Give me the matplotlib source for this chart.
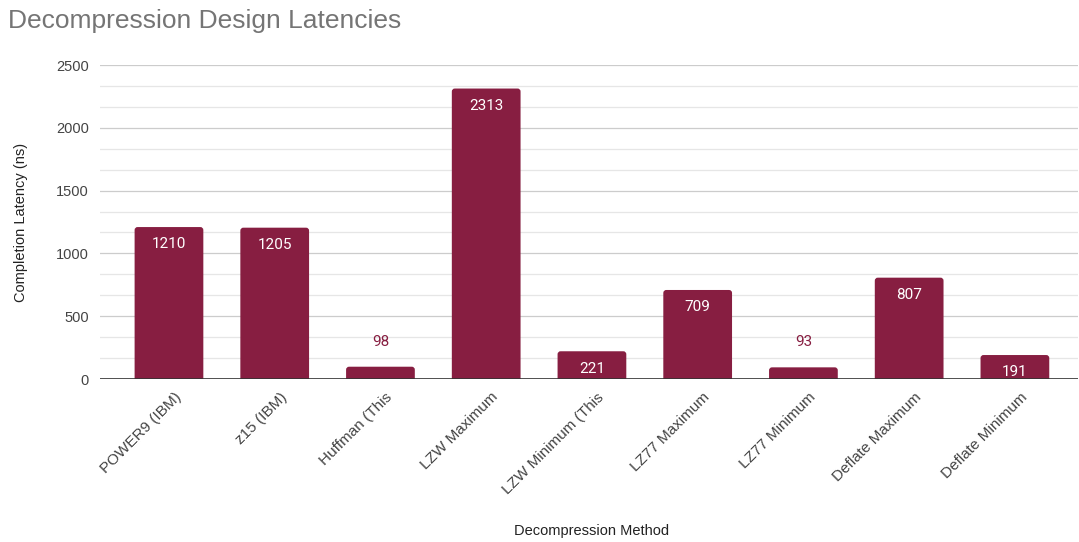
import matplotlib
matplotlib.use("Agg")
import matplotlib.pyplot as plt
import matplotlib.transforms as mtransforms
from matplotlib.patches import FancyBboxPatch
from matplotlib.ticker import MultipleLocator

methods = ["POWER9 (IBM)", "z15 (IBM)", "Huffman (This", "LZW Maximum",
           "LZW Minimum (This", "LZ77 Maximum", "LZ77 Minimum",
           "Deflate Maximum", "Deflate Minimum"]
latency_ns = [1210, 1205, 98, 2313, 221, 709, 93, 807, 191]

bar_color = "#871e41"
text_gray = "#444444"

fig = plt.figure(figsize=(10.79, 5.42), dpi=100)
ax = fig.add_axes([0.0927, 0.3007, 0.9063, 0.5793])
ax.set_xlim(-0.652, 8.596)
ax.set_ylim(0, 2500)

bars = ax.bar(range(len(methods)), latency_ns, width=0.65, color=bar_color, zorder=3)

# swap the square bars for ones with slightly rounded tops
# (bottom corners are pushed below zero and clipped by the axes)
fig.canvas.draw()
bbox = ax.get_window_extent()
px_x = bbox.width / (ax.get_xlim()[1] - ax.get_xlim()[0])
px_y = bbox.height / (ax.get_ylim()[1] - ax.get_ylim()[0])
r = 3 / px_x
for rect in bars:
    rect.set_visible(False)
    below = 8 / px_y
    p = FancyBboxPatch((rect.get_x(), -below), rect.get_width(), rect.get_height() + below,
                       boxstyle=f"round,pad=0,rounding_size={r}",
                       mutation_aspect=px_x / px_y, facecolor=bar_color,
                       edgecolor="none", zorder=3)
    ax.add_patch(p)

# value labels: inside the bar when there is room, above it otherwise
for rect, v in zip(bars, latency_ns):
    x = rect.get_x() + rect.get_width() / 2
    if v > 150:
        ax.annotate(str(v), (x, v), xytext=(0, -7.5), textcoords="offset points",
                    ha="center", va="top", color="white", fontsize=11,
                    family="Roboto", zorder=4)
    else:
        ax.annotate(str(v), (x, v), xytext=(0, 13), textcoords="offset points",
                    ha="center", va="bottom", color=bar_color, fontsize=11,
                    family="Roboto", zorder=4)

ax.yaxis.set_major_locator(MultipleLocator(500))
ax.yaxis.set_minor_locator(MultipleLocator(500 / 3))
ax.grid(axis="y", which="major", color="#cccccc", linewidth=0.9, zorder=0)
ax.grid(axis="y", which="minor", color="#e6e6e6", linewidth=0.9, zorder=0)
ax.axhline(0, color="#333333", linewidth=1.2, zorder=5)

for s in ax.spines.values():
    s.set_visible(False)
ax.tick_params(axis="both", which="both", length=0)
ax.tick_params(axis="y", labelsize=10.5, labelcolor=text_gray, pad=8)

ax.set_xticks(range(len(methods)))
ax.set_xticklabels(methods, rotation=45, ha="right", rotation_mode="anchor",
                   fontsize=11, color=text_gray)
ax.tick_params(axis="x", pad=8)
for lab in ax.get_xticklabels() + ax.get_yticklabels():
    lab.set_family("Liberation Sans")
# nudge rotated labels so their ends sit just right of the bar centres
offset = mtransforms.ScaledTranslation(5 / 100, 0, fig.dpi_scale_trans)
for lab in ax.get_xticklabels():
    lab.set_transform(lab.get_transform() + offset)

ax.set_ylabel("Completion Latency (ns)", fontsize=10.5, color="#222222",
              family="Liberation Sans", labelpad=20)
fig.text(0.548, 0.02, "Decompression Method", ha="center", va="center",
         fontsize=10.5, color="#222222", family="Liberation Sans")
fig.text(0.007, 0.962, "Decompression Design Latencies", ha="left", va="center",
         fontsize=19, color="#757575", family="Liberation Sans")

fig.savefig("out.png", dpi=100, facecolor="white")
